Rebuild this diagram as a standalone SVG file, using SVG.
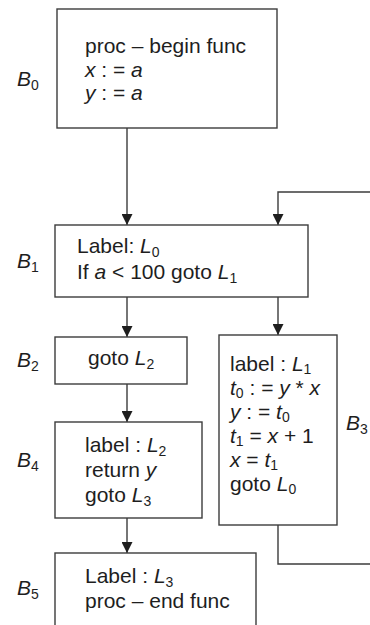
<svg xmlns="http://www.w3.org/2000/svg" width="370" height="625" viewBox="0 0 370 625">
<defs>
<style>
.box{fill:#fff;stroke:#3c3c3c;stroke-width:1.4}
.ln{fill:none;stroke:#3c3c3c;stroke-width:1.4}
text{font-family:"Liberation Sans",Arial,sans-serif;font-size:21px;fill:#1e1e1e}
.i{font-style:italic}
.s{font-size:14px;font-style:normal}
</style>
<marker id="ah" viewBox="0 0 10 10" refX="10" refY="5" markerWidth="11" markerHeight="11" markerUnits="userSpaceOnUse" orient="auto">
<path d="M0,0 L10,5 L0,10 Z" fill="#1e1e1e"/>
</marker>
</defs>
<rect width="370" height="625" fill="#fff"/>
<g id="connectors">
<line class="ln" x1="127" y1="128" x2="127" y2="225" marker-end="url(#ah)"/>
<polyline class="ln" points="370,192 278,192 278,225" marker-end="url(#ah)"/>
<line class="ln" x1="127" y1="297" x2="127" y2="337" marker-end="url(#ah)"/>
<line class="ln" x1="278" y1="297" x2="278" y2="335" marker-end="url(#ah)"/>
<line class="ln" x1="127" y1="384" x2="127" y2="422" marker-end="url(#ah)"/>
<line class="ln" x1="127" y1="518" x2="127" y2="553" marker-end="url(#ah)"/>
<polyline class="ln" points="278,525 278,564 370,564"/>
</g>
<g id="B0">
<rect class="box" x="57" y="9" width="220" height="119"/>
<text x="85" y="53">proc – begin func</text>
<text x="85" y="77"><tspan class="i">x</tspan> : = <tspan class="i">a</tspan></text>
<text x="85" y="100"><tspan class="i">y</tspan> : = <tspan class="i">a</tspan></text>
<text x="17" y="86"><tspan class="i">B</tspan><tspan class="s" dy="4">0</tspan></text>
</g>
<g id="B1">
<rect class="box" x="55" y="225" width="253" height="72"/>
<text x="77" y="253">Label: <tspan class="i">L</tspan><tspan class="s" dy="4">0</tspan></text>
<text x="77" y="279">If <tspan class="i">a</tspan> &lt; 100 goto <tspan class="i">L</tspan><tspan class="s" dy="4">1</tspan></text>
<text x="17" y="268"><tspan class="i">B</tspan><tspan class="s" dy="4">1</tspan></text>
</g>
<g id="B2">
<rect class="box" x="55" y="337" width="132" height="47"/>
<text x="88" y="365">goto <tspan class="i">L</tspan><tspan class="s" dy="4">2</tspan></text>
<text x="17" y="367"><tspan class="i">B</tspan><tspan class="s" dy="4">2</tspan></text>
</g>
<g id="B3">
<rect class="box" x="219" y="335" width="118" height="190"/>
<text x="230" y="371">label : <tspan class="i">L</tspan><tspan class="s" dy="3">1</tspan></text>
<text x="230" y="395"><tspan class="i">t</tspan><tspan class="s" dy="3">0</tspan><tspan dy="-3"> : = </tspan><tspan class="i">y</tspan> * <tspan class="i">x</tspan></text>
<text x="230" y="419"><tspan class="i">y</tspan> : = <tspan class="i">t</tspan><tspan class="s" dy="3">0</tspan></text>
<text x="230" y="443"><tspan class="i">t</tspan><tspan class="s" dy="3">1</tspan><tspan dy="-3"> = </tspan><tspan class="i">x</tspan> + 1</text>
<text x="230" y="467"><tspan class="i">x</tspan> = <tspan class="i">t</tspan><tspan class="s" dy="3">1</tspan></text>
<text x="230" y="491">goto <tspan class="i">L</tspan><tspan class="s" dy="3">0</tspan></text>
<text x="346" y="430"><tspan class="i">B</tspan><tspan class="s" dy="4">3</tspan></text>
</g>
<g id="B4">
<rect class="box" x="55" y="422" width="147" height="96"/>
<text x="85" y="452">label : <tspan class="i">L</tspan><tspan class="s" dy="4">2</tspan></text>
<text x="85" y="477">return <tspan class="i">y</tspan></text>
<text x="85" y="502">goto <tspan class="i">L</tspan><tspan class="s" dy="4">3</tspan></text>
<text x="17" y="467"><tspan class="i">B</tspan><tspan class="s" dy="4">4</tspan></text>
</g>
<g id="B5">
<rect class="box" x="55" y="553" width="201" height="90"/>
<text x="85" y="583">Label : <tspan class="i">L</tspan><tspan class="s" dy="4">3</tspan></text>
<text x="85" y="608">proc – end func</text>
<text x="17" y="595"><tspan class="i">B</tspan><tspan class="s" dy="4">5</tspan></text>
</g>
</svg>
